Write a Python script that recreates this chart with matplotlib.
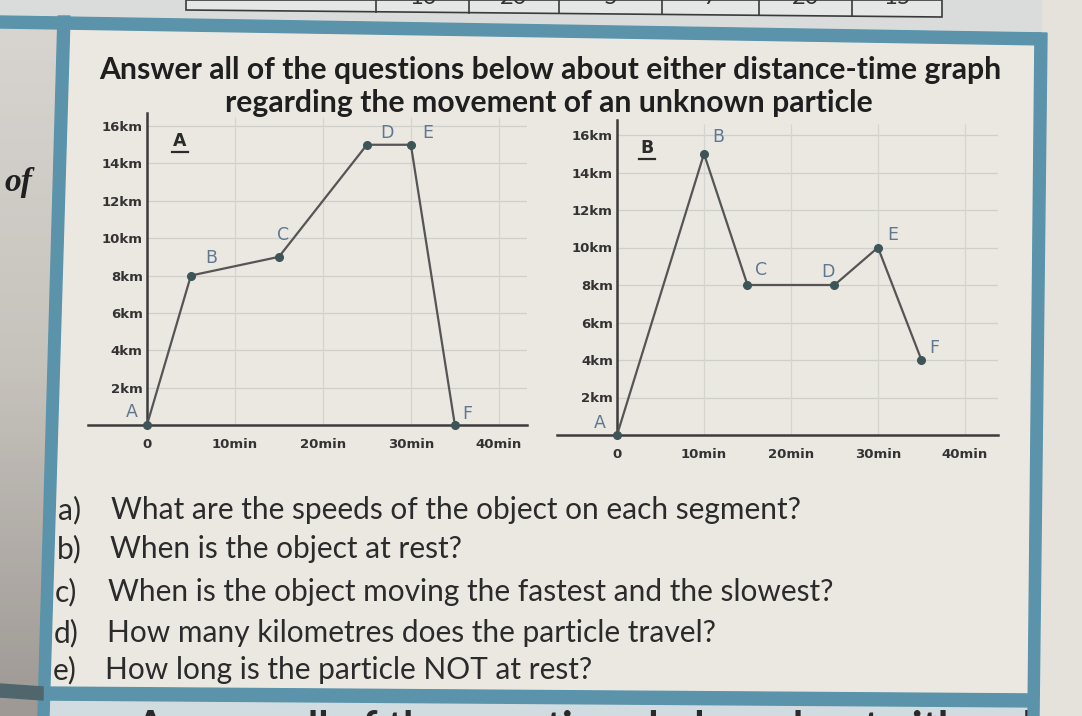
import matplotlib
matplotlib.use("Agg")
import matplotlib.pyplot as plt
import numpy as np
from matplotlib.patches import Polygon
from matplotlib.colors import LinearSegmentedColormap

# graph A (left panel)
a_times = [0, 5, 15, 25, 30, 35]
a_dists = [0, 8, 9, 15, 15, 0]
a_names = ["A", "B", "C", "D", "E", "F"]

# graph B (right panel)
b_times = [0, 10, 15, 25, 30, 35]
b_dists = [0, 15, 8, 8, 10, 4]
b_names = ["A", "B", "C", "D", "E", "F"]

x_ticks = [0, 10, 20, 30, 40]
x_labels = ["0", "10min", "20min", "30min", "40min"]
y_ticks = [2, 4, 6, 8, 10, 12, 14, 16]
y_labels = ["2km", "4km", "6km", "8km", "10km", "12km", "14km", "16km"]

title_lines = [
    "Answer all of the questions below about either distance-time graph",
    "regarding the movement of an unknown particle",
]
questions = [
    ("a)", "What are the speeds of the object on each segment?"),
    ("b)", "When is the object at rest?"),
    ("c)", "When is the object moving the fastest and the slowest?"),
    ("d)", "How many kilometres does the particle travel?"),
    ("e)", "How long is the particle NOT at rest?"),
]
table_values = ["10", "20", "5", "7", "20", "15"]

W, H = 1082, 716
TEAL = "#5a93aa"
PAPER = "#ebe8e2"
INK = "#2b2b2b"
LABEL = "#5f7890"

fig = plt.figure(figsize=(W / 100, H / 100), dpi=100)
fig.patch.set_facecolor(PAPER)

# pixel-space layer for the worksheet decoration and text
bg = fig.add_axes([0, 0, 1, 1])
bg.set_xlim(0, W)
bg.set_ylim(H, 0)
bg.axis("off")

# strip above the box with the cut-off table
bg.add_patch(Polygon([(0, 0), (W, 0), (W, 36), (0, 20)], color="#d9dcdb", zorder=0))
cell_edges = [186, 376, 469, 559, 662, 759, 852, 942]
bg.add_patch(Polygon([(186, 0), (942, 0), (942, 17), (186, 10)],
                     facecolor="#e4e7e6", edgecolor="#3a3a3a", lw=1.2, zorder=1))
for x in cell_edges[1:-1]:
    y_bot = 10 + (x - 186) * 7 / 756
    bg.plot([x, x], [0, y_bot], color="#3a3a3a", lw=1.2, zorder=2)
for i, val in enumerate(table_values):
    xc = (cell_edges[i + 1] + cell_edges[i + 2]) / 2
    bg.text(xc, -2, val, ha="center", va="center", fontsize=17,
            family="Lato", color="#333333", zorder=3)

# paper outside the box (left strip darkens towards the bottom)
left_strip = Polygon([(0, 20), (60, 21), (40, H), (0, H)], facecolor="none", edgecolor="none")
bg.add_patch(left_strip)
shade = LinearSegmentedColormap.from_list("shade", ["#d8d5d0", "#c6c2bc", "#9e9994"])
grad = bg.imshow(np.linspace(0, 1, 100).reshape(-1, 1), cmap=shade, aspect="auto",
                 extent=(0, 70, H, 20), zorder=0)
grad.set_clip_path(left_strip)
bg.set_xlim(0, W)
bg.set_ylim(H, 0)

bg.add_patch(Polygon([(1042, 0), (W, 0), (W, H), (1034, H)], color="#e5e1db", zorder=4.5))
bg.add_patch(Polygon([(40, 700), (1034, 707), (1034, H), (40, H)], color="#d0dcdf", zorder=0))

# teal frame
bg.add_patch(Polygon([(0, 16), (1047, 33), (1047, 45), (0, 28)], color=TEAL, zorder=4))
bg.add_patch(Polygon([(58, 16), (70, 16), (49, H), (38, H)], color=TEAL, zorder=4))
bg.add_patch(Polygon([(1035, 33), (1047, 33), (1039, H), (1028, H)], color=TEAL, zorder=4.6))
bg.add_patch(Polygon([(43, 687), (1039, 694), (1039, 707), (43, 700)], color=TEAL, zorder=4))
bg.add_patch(Polygon([(0, 684), (43, 687), (43, 700), (0, 697)], color="#4f666c", zorder=4))

# header text
bg.text(550, 70, title_lines[0], ha="center", va="center", fontsize=21.7,
        fontweight="bold", family="Lato", color="#1f1f1f", zorder=6)
bg.text(549, 103, title_lines[1], ha="center", va="center", fontsize=21.7,
        fontweight="bold", family="Lato", color="#1f1f1f", zorder=6)
bg.text(4, 182, "of", ha="left", va="center", fontsize=24, fontweight="bold",
        fontstyle="italic", family="Liberation Serif", color="#1f1f1f", zorder=6)

# questions
q_rows = [510, 549, 592, 633, 670]
for (tag, text), y in zip(questions, q_rows):
    shift = (y - 510) * 0.035
    bg.text(58 - shift, y, tag, ha="left", va="center", fontsize=21.5,
            family="Lato", color=INK, zorder=6)
    bg.text(111 - shift, y, text, ha="left", va="center", fontsize=21.5,
            family="Lato", color=INK, zorder=6)

# next header peeking in at the bottom edge, tucked under the right border
bg.text(135, 710, title_lines[0], ha="left", va="top", fontsize=30,
        fontweight="bold", family="Lato", color="#2a2a2a", zorder=3.5)


def draw_graph(rect_px, xlim, ytop, times, dists, names, offsets, panel, panel_px):
    """Draw one distance-time graph inside a pixel rectangle (left, top, right, bottom)"""
    left, top, right, bottom = rect_px
    ax = fig.add_axes([left / W, (H - bottom) / H, (right - left) / W, (bottom - top) / H])
    ax.patch.set_alpha(0)
    ax.set_xlim(*xlim)
    ax.set_ylim(0, ytop)

    ax.hlines(y_ticks, 0, xlim[1], color="#cfcfcc", lw=0.9, zorder=1)
    ax.vlines(x_ticks[1:], 0, ytop - 0.2, color="#d4d4d1", lw=0.9, zorder=1)

    for side in ["top", "right"]:
        ax.spines[side].set_visible(False)
    ax.spines["left"].set_position(("data", 0))
    for side in ["left", "bottom"]:
        ax.spines[side].set_color("#3c3c3c")
        ax.spines[side].set_linewidth(1.8)

    ax.set_xticks(x_ticks, x_labels)
    ax.set_yticks(y_ticks, y_labels)
    ax.tick_params(length=0, labelsize=9.5, labelcolor="#333333")
    ax.tick_params(axis="x", pad=9)
    ax.tick_params(axis="y", pad=3)
    for lab in ax.get_xticklabels() + ax.get_yticklabels():
        lab.set_fontweight("bold")

    ax.plot(times, dists, color="#555555", lw=1.6, zorder=3, clip_on=False)
    ax.plot(times, dists, "o", ms=5.5, color="#3e5558", zorder=4, clip_on=False)

    for t, d, name, (dx, dy) in zip(times, dists, names, offsets):
        ax.annotate(name, (t, d), xytext=(dx * 0.72, dy * 0.72), textcoords="offset points",
                    ha="center", va="center", fontsize=12.5, color=LABEL, annotation_clip=False)

    bg.text(panel_px[0], panel_px[1], panel, ha="center", va="center", fontsize=12.5,
            fontweight="bold", color="#2b2b2b")
    bg.plot([panel_px[0] - 8, panel_px[0] + 8], [panel_px[1] + 11, panel_px[1] + 11],
            color="#2b2b2b", lw=1.6)
    return ax


a_offsets = [(-15, 13), (20, 18), (4, 22), (20, 12), (17, 12), (12, 11)]
b_offsets = [(-17, 12), (14, 17), (14, 15), (-7, 13), (15, 12), (13, 12)]

draw_graph((88, 113, 527, 425), (-6.7, 43.2), 16.7, a_times, a_dists, a_names,
           a_offsets, "A", (180, 141))
draw_graph((557, 120, 998, 435), (-6.9, 43.8), 16.8, b_times, b_dists, b_names,
           b_offsets, "B", (647, 148))

fig.savefig("out.png", dpi=100, facecolor=fig.get_facecolor())
